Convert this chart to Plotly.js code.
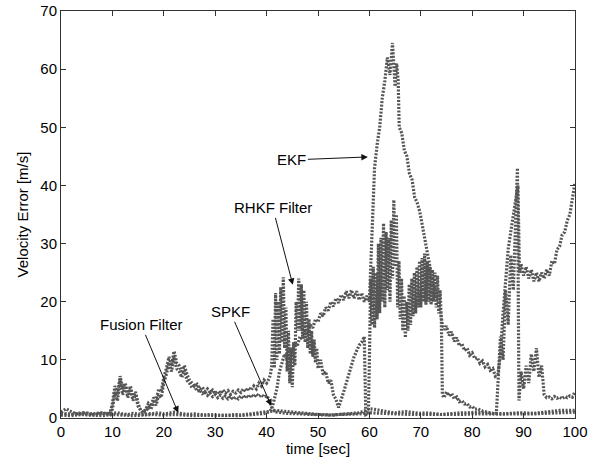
<!DOCTYPE html>
<html>
<head>
<meta charset="utf-8">
<script src="https://cdn.plot.ly/plotly-3.0.1.min.js"></script>
<style>html,body{margin:0;padding:0;background:#fff;}#chart{width:600px;height:468px;}</style>
</head>
<body>
<div id="chart"></div>
<script>
// ---- data (time [sec], velocity error [m/s]) ----
var fusionT = [
0,1,2,3,4,5,6,7,8,9,
10,11,12,13,14,15,16,17,18,19,
20,21,22,23,24,25,26,27,28,29,
30,31,32,33,34,35,36,37,38,39,
40,41,42,43,44,45,46,47,48,49,
50,51,52,53,54,55,56,57,58,59,
60,61,62,63,64,65,66,67,68,69,
70,71,72,73,74,75,76,77,78,79,
80,81,82,83,84,85,86,87,88,89,
90,91,92,93,94,95,96,97,98,99,
100];
var fusionV = [
1.0,1.6,1.1,0.7,0.8,0.9,0.7,0.8,0.9,0.7,
0.8,0.9,0.7,0.6,0.8,0.7,0.6,0.7,0.8,0.9,
0.7,0.9,1.0,0.8,0.7,0.6,0.7,0.6,0.5,0.6,
0.5,0.5,0.4,0.5,0.6,0.5,0.6,0.7,0.8,0.9,
1.1,1.2,1.3,1.2,1.1,1.0,0.9,0.8,0.7,0.7,
0.6,0.6,0.5,0.5,0.6,0.7,0.7,0.8,0.9,1.2,
1.6,1.5,1.3,1.1,1.0,0.9,1.0,1.1,1.0,0.9,
0.8,0.9,0.8,0.7,0.6,0.7,0.8,0.8,0.9,0.9,
1.0,1.0,0.9,0.8,0.8,0.7,0.7,0.8,0.8,0.9,
0.9,0.8,0.8,0.9,1.0,1.2,1.3,1.3,1.3,1.3,
1.3];

var spkfT = [
0,2,4,6,8,9.5,
10,10.5,11,11.5,12,12.5,13,13.5,14,14.5,
15,15.5,16,16.5,17,17.5,18,18.5,19,19.5,
20,20.5,21,21.5,22,22.5,23,23.5,24,24.5,
25,25.5,26,26.5,27,27.5,28,28.5,29,29.5,
30,30.5,31,31.5,32,32.5,33,33.5,34,34.5,
35,35.5,36,36.5,37,37.5,38,38.5,39,39.5,
40,40.5,41,41.5,42,44,46,48,
50,52,54,56,58,60,62,64,66,68,
70,72,74,76,78,80,82,84,86,88,
90,92,94,96,98,100];
var spkfV = [
0.8,0.6,0.7,0.5,0.7,0.8,
1.5,4.5,3,6.8,4,5.5,3.5,5,3,4,
2,1.5,0.8,1.2,1.8,1.5,2.8,2.2,4,3.5,
6,7.5,9.5,8,10.5,8.5,8,7,8.2,6.5,
6,5.2,5.4,4.6,4.8,4.2,4.5,3.9,4.3,3.7,
4,3.5,3.9,3.4,3.8,3.3,3.7,3.2,3.6,3.3,
3.8,3.4,3.9,3.5,4,3.6,4.1,3.7,4,3.6,
3.8,3.2,1.8,1.2,1.0,0.8,0.7,0.6,
0.5,0.5,0.6,0.6,0.7,0.9,0.8,0.7,0.7,0.6,
0.6,0.6,0.5,0.6,0.6,0.7,0.7,0.6,0.6,0.6,
0.7,0.7,0.8,0.9,1.0,1.0];

var rhkfT = [
0,2,4,6,8,9.5,
10,10.5,11,11.5,12,12.5,13,13.5,14,14.5,
15,15.5,16,16.5,17,17.5,18,18.5,19,19.5,
20,20.5,21,21.5,22,22.5,23,23.5,24,24.5,
25,25.5,26,26.5,27,27.5,28,28.5,29,29.5,
30,30.5,31,31.5,32,32.5,33,33.5,34,34.5,
35,35.5,36,36.5,37,37.5,38,38.5,39,39.5,
40,40.5,40.75,41,41.25,41.5,41.75,42,42.25,42.5,
42.75,43,43.25,43.5,43.75,44,44.25,44.5,44.75,45,
45.25,45.5,45.75,46,46.25,46.5,46.75,47,47.25,47.5,
47.75,48,48.25,48.5,48.75,49,49.25,49.5,49.75,50,
50.5,51,51.5,52,52.5,53,53.5,54,54.5,55,
55.5,56,56.5,57,57.5,58,58.5,59,59.3,59.8,
60,60.25,60.5,60.75,61,61.25,61.5,61.75,62,62.25,
62.5,62.75,63,63.25,63.5,63.75,64,64.25,64.5,64.75,
65,65.25,65.5,65.75,66,66.25,66.5,66.75,67,67.25,
67.5,67.75,68,68.25,68.5,68.75,69,69.25,69.5,69.75,
70,70.25,70.5,70.75,71,71.25,71.5,71.75,72,72.25,
72.5,72.75,73,73.25,73.5,73.75,74,74.2,74.5,75,
75.5,76,76.5,77,77.5,78,78.5,79,79.5,80,
80.5,81,82,83,84,84.7,85,85.5,86,86.5,
87,87.5,88,88.5,88.8,89.1,89.5,90,90.5,91,
91.5,92,92.5,93,93.5,94,94.5,95,95.5,96,
96.5,97,97.5,98,98.5,99,99.5,100];
var rhkfV = [
0.8,0.6,0.9,0.6,0.8,0.6,
2.5,5.5,4,7.2,5,6,4,5.5,3.5,4.5,
2.5,1.2,1.0,1.5,2.5,2,3.5,3,5,4.5,
7,8.5,10.5,9,11.5,9.5,9,8,9,7.5,
6.5,6,5.5,5.8,5,5.3,4.6,5,4.4,4.8,
4.2,4.6,4.2,4.8,4.3,4.7,4.1,4.6,4.3,4.8,
4.4,5,4.6,5.2,4.8,5.5,5,6,5.5,6.5,
6,6.8,7.5,9,17,8.6,21.5,10,20,11,
22.5,13,24.2,12,19,8,15,6,12,5.3,
13,9,20,15,24,15,23,14,22,13,
20,12,17,11,15,10.5,13.5,9.5,12,8.5,
10,7.5,8,6,6.5,4,3.2,1.8,3,4.5,
6,7.5,9,10.5,11.5,12.5,13,14,0.6,0.8,
10,24,16,26,15.5,25,17,30,18,31,
20,33.5,19,32,22,31,20,34,24,37.5,
26,35,19,27,17,24,15,21,13.8,20,
15,23,16,24,17.5,25,18,26,19,27,
19,27.5,20,28.3,19.5,27,20,26,19.5,25.5,
20,25,19,24.5,18,22,16.5,4,3.5,4.5,
3.8,4.2,3.3,3.6,2.8,3.0,2.4,2.5,1.9,2.0,
1.5,1.6,1.2,1.0,0.8,0.8,5,14,10,22,
16,28,22,36,43,3,8,5,9,6,
11,8,12,7,9,4,3.5,3.6,3.3,3.7,
3.4,3.6,3.3,3.7,3.5,3.8,3.6,4.5];

var ekfT = [
0,2,4,6,8,10,12,14,16,18,
20,22,24,26,28,30,32,34,36,38,
40,41,42,42.5,43,43.5,44,44.5,45,45.5,
46,46.5,47,47.5,48,48.5,49,49.5,50,50.5,
51,51.5,52,52.5,53,53.5,54,54.5,55,55.5,
56,56.5,57,57.5,58,58.5,59,59.5,60,60.3,
60.6,61,61.5,62,62.5,63,63.5,64,64.5,65,
65.3,65.6,65.8,66.3,66.8,67.3,67.8,68.3,68.8,69.3,
69.8,70.3,70.8,71.3,71.8,72.3,72.8,73.3,73.8,74.2,
74.6,75,75.5,76,76.5,77,77.5,78,78.5,79,
79.5,80,80.5,81,81.5,82,82.5,83,83.5,84,
84.5,85,85.5,86,86.5,87,87.5,88,88.5,88.9,
89.2,89.5,90,90.5,91,91.5,92,92.5,93,93.5,
94,94.5,95,95.5,96,96.5,97,97.5,98,98.5,
99,99.5,100];
var ekfV = [
0.5,0.4,0.6,0.5,0.4,0.6,0.5,0.4,0.5,0.6,
0.5,0.6,0.5,0.4,0.5,0.4,0.5,0.4,0.5,0.6,
0.8,1.5,5,8,9.5,11,10,12,11.5,13,
12.5,14,13.5,15,14.5,16,15.5,17,16.5,18,
17.5,19,18.5,20,19.2,20.6,19.8,21.2,20.3,21.8,
20.6,22,20.6,21.8,20.3,21.5,20,21,20,26,
35,43,47,50,55,58,62,59,64.5,57,
61,58,50,49,46,45,42,41,38,37,
35.5,33,31,28,26,23.5,22,20,18.5,16,
15.2,15.8,14.2,14.8,13.2,13.8,12.4,12.8,11.6,12,
10.8,11.2,10.2,10.4,9.4,9.8,8.8,9.2,8.2,8.5,
7.2,7.5,11,18,24,29,32,35,38,40,
25,26.5,24.5,26,24,25.5,23.5,25,23.5,25,
24,25.5,24.5,27,26.5,29,29.5,31.5,32,34,
35,37.5,40.5];

var seriesNames = ['Fusion Filter', 'SPKF', 'RHKF Filter', 'EKF'];
var xTicks = [0,10,20,30,40,50,60,70,80,90,100];
var yTicks = [0,10,20,30,40,50,60,70];

function band(name, t, v) {
  return {
    type: 'scatter', mode: 'lines', name: name, x: t, y: v,
    line: {color: '#555555', width: 3.2, dash: '2px,1.5px'},
    hoverinfo: 'skip'
  };
}

var data = [
  band(seriesNames[0], fusionT, fusionV),
  band(seriesNames[1], spkfT, spkfV),
  band(seriesNames[2], rhkfT, rhkfV),
  band(seriesNames[3], ekfT, ekfV)
];

var fontFam = 'Liberation Sans, Arial, sans-serif';
var axisCommon = {
  showline: true, linecolor: '#333', linewidth: 1, mirror: 'ticks',
  ticks: 'inside', ticklen: 5, tickcolor: '#333', tickwidth: 1,
  showgrid: false, zeroline: false,
  tickfont: {family: fontFam, size: 15, color: '#000'}
};

var layout = {
  width: 600, height: 468,
  margin: {l: 61, r: 25, t: 11, b: 50},
  paper_bgcolor: '#ffffff', plot_bgcolor: '#ffffff',
  showlegend: false,
  font: {family: fontFam, size: 15, color: '#000'},
  xaxis: Object.assign({}, axisCommon, {
    range: [0, 100], tickvals: xTicks, ticktext: xTicks.map(String),
    title: {text: 'time [sec]', standoff: 2, font: {size: 15}}
  }),
  yaxis: Object.assign({}, axisCommon, {
    range: [0, 70], tickvals: yTicks, ticktext: yTicks.map(String),
    title: {text: 'Velocity Error [m/s]', standoff: 8, font: {size: 15}}
  }),
  annotations: [
    {x: 59.7, y: 44.9, xref: 'x', yref: 'y', text: seriesNames[3], showarrow: true,
     ax: -76, ay: 3, arrowhead: 2, arrowsize: 1.3, arrowwidth: 1, arrowcolor: '#111',
     font: {size: 15, color: '#000'}},
    {x: 45.1, y: 22.9, xref: 'x', yref: 'y', text: seriesNames[2], showarrow: true,
     ax: -20, ay: -77, arrowhead: 2, arrowsize: 1.3, arrowwidth: 1, arrowcolor: '#111',
     font: {size: 15, color: '#000'}},
    {x: 40.9, y: 2.1, xref: 'x', yref: 'y', text: seriesNames[1], showarrow: true,
     ax: -41, ay: -94, arrowhead: 2, arrowsize: 1.3, arrowwidth: 1, arrowcolor: '#111',
     font: {size: 15, color: '#000'}},
    {x: 22.8, y: 0.9, xref: 'x', yref: 'y', text: seriesNames[0], showarrow: true,
     ax: -37, ay: -88, arrowhead: 2, arrowsize: 1.3, arrowwidth: 1, arrowcolor: '#111',
     font: {size: 15, color: '#000'}}
  ]
};

Plotly.newPlot('chart', data, layout, {staticPlot: true, displayModeBar: false});
</script>
</body>
</html>
